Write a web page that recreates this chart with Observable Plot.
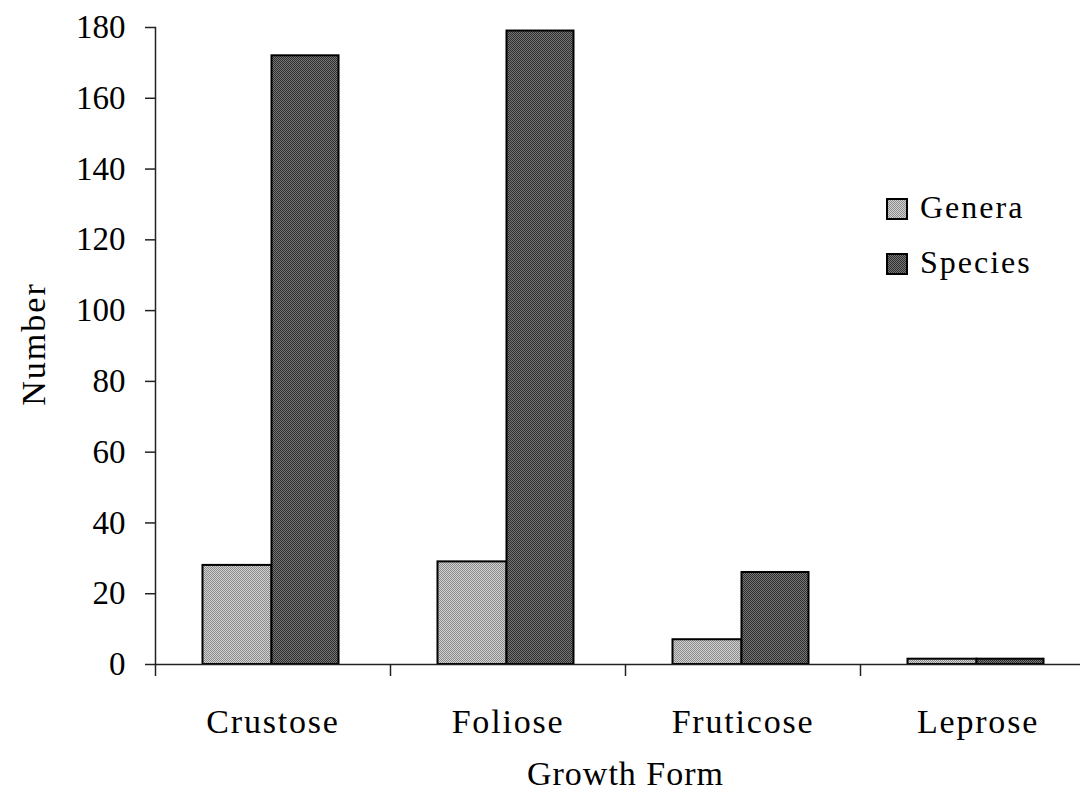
<!DOCTYPE html>
<html><head><meta charset="utf-8">
<script src="https://cdn.jsdelivr.net/npm/d3@7"></script>
<script src="https://cdn.jsdelivr.net/npm/@observablehq/plot@0.6"></script>
<style>
html,body{margin:0;padding:0;background:#fff;overflow:hidden}
</style></head><body><div id="chart"></div>
<script>
const forms = ["Crustose", "Foliose", "Fruticose", "Leprose"];
const genera = [28, 29, 7, 1.5];
const species = [172, 179, 26, 1.5];
const seriesNames = ["Genera", "Species"];
const yTicks = [0, 20, 40, 60, 80, 100, 120, 140, 160, 180];
const xTitle = "Growth Form";
const yTitle = "Number";

const FONT = "'Liberation Serif', 'Times New Roman', serif";
const genRows = forms.map((f, i) => ({form: f, value: genera[i]}));
const spRows = forms.map((f, i) => ({form: f, value: species[i]}));
const fills = ["url(#pg)", "url(#ps)"];

function checker(defs, id, a, b) {
  const p = defs.append("pattern").attr("id", id).attr("width", 2).attr("height", 2)
    .attr("patternUnits", "userSpaceOnUse");
  p.append("rect").attr("width", 2).attr("height", 2).attr("fill", a);
  p.append("rect").attr("width", 1).attr("height", 1).attr("fill", b);
  p.append("rect").attr("x", 1).attr("y", 1).attr("width", 1).attr("height", 1).attr("fill", b);
}
const defsMark = () => {
  const d = d3.create("svg:defs");
  checker(d, "pg", "#d0d0d0", "#8c8c8c");
  checker(d, "ps", "#767676", "#2e2e2e");
  return d.node();
};
const legendMark = () => {
  const g = d3.create("svg:g").attr("aria-label", "legend").attr("text-anchor", "start");
  seriesNames.forEach((name, i) => {
    const y0 = 199 + i * 55;
    g.append("rect").attr("x", 887).attr("y", y0).attr("width", 20).attr("height", 20)
      .attr("fill", fills[i]).attr("stroke", "#000").attr("stroke-width", 2);
    g.append("text").attr("x", 920).attr("y", y0 + 19).attr("text-anchor", "start")
      .style("font-size", "32px").style("letter-spacing", "2px").attr("fill", "#000").text(name);
  });
  return g.node();
};

const plot = Plot.plot({
  width: 1080, height: 801,
  marginLeft: 155, marginRight: 0, marginTop: 27, marginBottom: 137,
  style: {fontFamily: FONT, fontSize: "32px", color: "#000", background: "#fff", overflow: "visible"},
  x: {domain: forms, range: [155, 1095], padding: 0, label: null},
  y: {domain: [0, 180], range: [664, 27], label: null},
  marks: [
    defsMark,
    Plot.barY(genRows, {x: "form", y: "value", fill: fills[0], stroke: "#000", strokeWidth: 2, insetLeft: 47.5, insetRight: 118.5}),
    Plot.barY(spRows, {x: "form", y: "value", fill: fills[1], stroke: "#000", strokeWidth: 2, insetLeft: 116.5, insetRight: 51.5}),
    Plot.ruleY([0], {stroke: "#222", strokeWidth: 1.5}),
    Plot.frame({anchor: "left", stroke: "#222", strokeWidth: 1.5}),
    Plot.axisY({ticks: yTicks, tickSize: 10, tickPadding: 20, fontSize: 33, label: null, stroke: "#222", strokeWidth: 1.5}),
    Plot.axisX({tickSize: 12, tickFormat: () => "", dx: -117.5, label: null, stroke: "#222", strokeWidth: 1.5}),
    Plot.axisX({tickSize: 0, tickPadding: 44, fontSize: 34, label: null}),
    Plot.text([xTitle], {text: d => d, frameAnchor: "bottom", textAnchor: "middle", dx: 7.5, dy: 120, fontSize: 34}),
    Plot.text([yTitle], {text: d => d, frameAnchor: "left", textAnchor: "middle", rotate: -90, dx: -121, dy: -2, fontSize: 34}),
    legendMark
  ]
});
const s = d3.select(plot);
s.selectAll('g[aria-label="x-axis tick label"] text').style("letter-spacing", "1.8px");
s.selectAll("text").filter(function() { return this.textContent === xTitle; }).style("letter-spacing", "1px");
s.selectAll("text").filter(function() { return this.textContent === yTitle; }).style("letter-spacing", "2px");
document.getElementById("chart").appendChild(plot);
</script>
</body></html>
